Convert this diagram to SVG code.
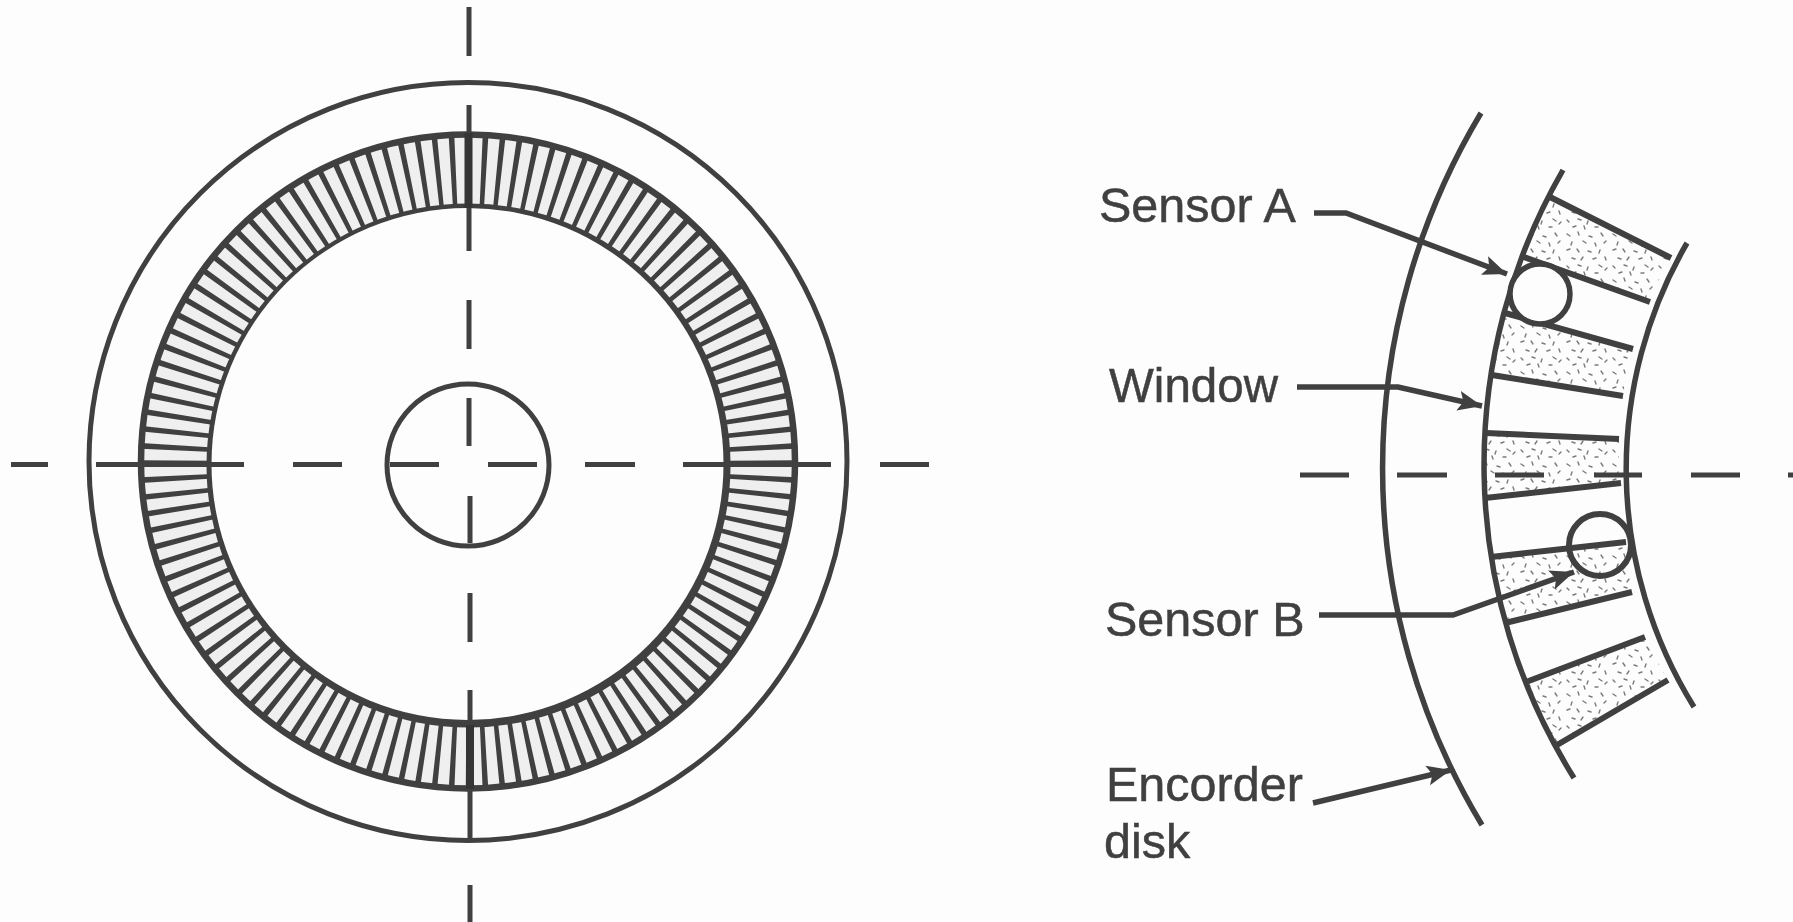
<svg xmlns="http://www.w3.org/2000/svg" width="1793" height="922" viewBox="0 0 1793 922">
<style>
.lbl{font-family:"Liberation Sans",Arial,sans-serif;font-size:48.5px;fill:#404040;stroke:#404040;stroke-width:0.5}
.ctr{stroke-width:5;stroke:#404040;fill:none}
.div{stroke:#404040;stroke-width:6;fill:none}
.lead{stroke:#404040;stroke-width:5.5;fill:none;marker-end:url(#arrow)}
.arc{stroke:#404040;stroke-width:5.5;fill:none}
.stip{fill:url(#stipple);stroke:none}
</style>
<defs>
<marker id="arrow" markerUnits="userSpaceOnUse" markerWidth="30" markerHeight="24" refX="24" refY="11" orient="auto">
<path d="M24,11 L0,1 L5,11 L0,21 Z" fill="#404040"/>
</marker>
<pattern id="stipple" patternUnits="userSpaceOnUse" width="46" height="46">
<g stroke="#7a7a7a" stroke-width="1.4" stroke-linecap="round" fill="none">
<path d="M3,4l3,2M14,2l1,3M25,6l3,1M37,3l2,3M8,12l-1,3M19,11l3,2M31,13l1,3M42,11l-2,2M3,20l3,-1M13,19l2,3M24,21l3,1M36,20l-1,3M8,28l3,1M19,27l-2,3M29,29l3,-1M41,27l1,3M3,36l2,2M14,35l3,1M24,37l-1,3M35,35l3,2M9,43l3,-1M20,42l1,3M31,43l3,0M43,38l-2,2"/>
</g>
</pattern>
</defs>
<rect width="1793" height="922" fill="#fdfdfd"/>

<g id="encoder-disk-front">
<circle cx="468" cy="461.5" r="379" fill="none" stroke="#404040" stroke-width="5"/>
<circle cx="468" cy="461.5" r="327" fill="#efefef" stroke="none"/>
<circle cx="468.5" cy="463" r="292" fill="none" stroke="#404040" stroke-width="72" pathLength="120" stroke-dasharray="0.33 0.67" stroke-dashoffset="0.165"/>
<circle cx="468" cy="461.5" r="327" fill="none" stroke="#404040" stroke-width="6.5"/>
<circle cx="468.5" cy="465.5" r="262" fill="#404040"/>
<circle cx="467.5" cy="464" r="256" fill="#fdfdfd"/>
<circle id="hub" cx="468" cy="465" r="81" fill="none" stroke="#404040" stroke-width="5"/>
</g>

<g id="centre-lines-front">
<path class="ctr" d="M469,7V56M469,105V251M469,300V349M469,398V446M470,496V543M470,593V642M470,690V842M470,885V922"/>
<path class="ctr" d="M11,464.5H48M96,464.5H244M293,464.5H342M390,464.5H439M488,464.5H537M585,464.5H635M683,464.5H831M880,464.5H929"/>
<path d="M468.5,133V208M470,725V789" stroke="#353535" stroke-width="8" fill="none"/>
</g>

<g id="encoder-disk-detail">
<path class="stip" d="M1550,197 L1671,258 Q1658,279 1650,302 L1524,257 Q1535,226 1550,197 Z"/>
<path class="stip" d="M1505,313 L1633,349 Q1626,372 1623,396 L1492,375 Q1497,344 1505,313 Z"/>
<path class="stip" d="M1486,433 L1619,439 Q1618,461 1621,483 L1485,498 Q1483,466 1486,433 Z"/>
<path class="stip" d="M1491,557 L1626,542 Q1628,567 1632,592 L1505,623 Q1496,590 1491,557 Z"/>
<path class="stip" d="M1526,682 L1645,637 Q1655,659 1668,680 L1557,745 Q1540,714 1526,682 Z"/>
<path class="arc" d="M1481,113 A690,690 0 0 0 1482,825"/>
<path class="arc" d="M1563,170 A590,590 0 0 0 1574,778"/>
<path class="arc" d="M1687,243 A451,451 0 0 0 1694,707"/>
<path class="div" d="M1550,197L1671,258M1524,257L1650,302M1505,313L1633,349M1492,375L1623,396M1486,433L1619,439M1485,498L1621,483M1491,557L1626,542M1505,623L1632,592M1526,682L1645,637M1557,745L1668,680"/>
<path class="ctr" d="M1300,475H1349M1397,475H1447M1495,475H1544M1594,475H1642M1691,475H1740M1788,475H1793"/>
</g>

<g id="sensor-a"><circle cx="1540" cy="294" r="30" fill="#fdfdfd" stroke="#404040" stroke-width="5.5"/></g>
<g id="sensor-b"><circle cx="1600" cy="545" r="31" fill="none" stroke="#404040" stroke-width="6"/></g>

<g id="connectors">
<path class="lead" d="M1314,213H1346L1507,274"/>
<path class="lead" d="M1297,387H1398L1482,406"/>
<path class="lead" d="M1319,615H1453L1574,572"/>
<path class="lead" d="M1313,803L1451,770"/>
</g>

<g id="label-sensor-a"><text class="lbl" x="1099" y="222">Sensor A</text></g>
<g id="label-window"><text class="lbl" x="1109" y="402" textLength="169" lengthAdjust="spacingAndGlyphs">Window</text></g>
<g id="label-sensor-b"><text class="lbl" x="1105" y="636">Sensor B</text></g>
<g id="label-encorder"><text class="lbl" x="1106" y="801">Encorder</text><text class="lbl" x="1104" y="858">disk</text></g>
</svg>
